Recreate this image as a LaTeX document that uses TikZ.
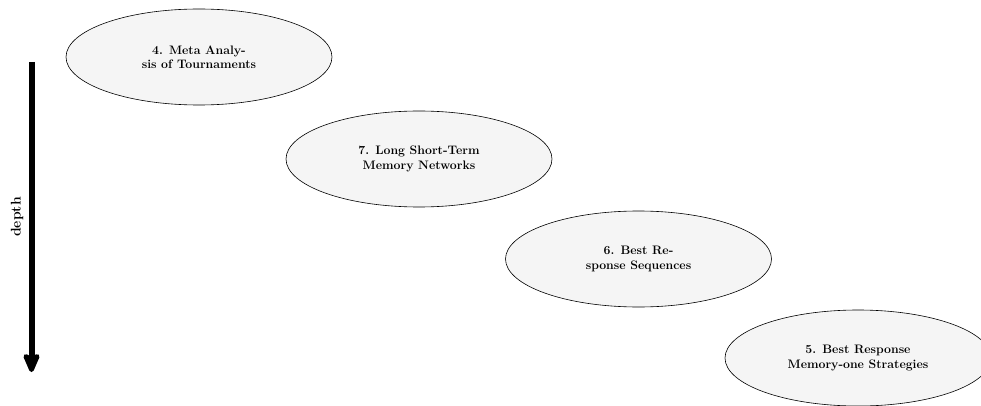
\documentclass[tikz,border=0pt]{standalone}
\usetikzlibrary{shapes.geometric,arrows.meta}
\begin{document}
\begin{tikzpicture}[x=1pt,y=-1pt,
  topic/.style={ellipse,draw=black,line width=0.6pt,fill=black!4,
    minimum width=266pt,minimum height=96pt,inner sep=0pt,align=center,
    font=\fontsize{12.3}{14.5}\selectfont\bfseries},
  depthaxis/.style={line width=6pt,-{Stealth[length=24pt,width=20pt,inset=5pt,round]}},
  axislabel/.style={rotate=90,font=\fontsize{14}{16}\selectfont\bfseries}]
  \useasboundingbox (0,0) rectangle (981,406);
  % topics, ordered by depth
  \node[topic] (t4) at (199,57) {4. Meta Analy-\\sis of Tournaments};
  \node[topic] (t7) at (419,159) {7. Long Short-Term\\Memory Networks};
  \node[topic] (t6) at (638.5,259) {6. Best Re-\\sponse Sequences};
  \node[topic] (t5) at (858,358) {5. Best Response\\Memory-one Strategies};
  % depth axis
  \coordinate (top) at (31.5,62);
  \coordinate (bottom) at (31.5,372);
  \draw[depthaxis] (top) -- (bottom);
  \node[axislabel] (depth) at (17,217) {depth};
\end{tikzpicture}
\end{document}
